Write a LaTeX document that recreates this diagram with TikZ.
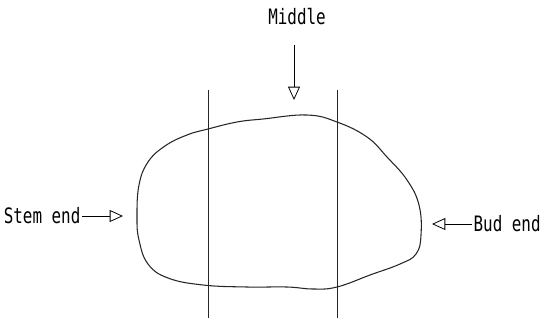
\documentclass[tikz,border=0pt]{standalone}
\usepackage{fontspec}
\usepackage{tikz}
\usetikzlibrary{arrows.meta}
\newfontfamily\lblfont[FakeStretch=0.75]{DejaVu Sans Mono}

\begin{document}
\begin{tikzpicture}[
    x=0.0265cm, y=-0.0265cm,
    label/.style={font=\lblfont\fontsize{16}{18}\selectfont, inner sep=1pt},
    arrow/.style={-{Triangle[open, length=10pt, width=9pt]}, line width=0.6pt},
    cut/.style={line width=0.6pt, black!85},
]
    \useasboundingbox (0,0) rectangle (544,321);

    % Tuber outline
    \draw[line width=0.8pt, black!85] plot[smooth cycle, tension=0.7] coordinates {
        (137,217) (139,185) (148,162) (165,146) (187,135) (208,129) (237,122)
        (263,119) (307,115) (337,122) (367,137) (387,157) (407,180)
        (419,205) (421,235) (416,254) (400,264) (370,275) (337,287) (313,289)
        (287,287) (247,287) (203,285) (168,278) (148,264) (139,240)
    };

    % Cutting lines
    \draw[cut] (208,90) -- (208,318);
    \draw[cut] (337,90) -- (337,318);

    % Labels
    \node[label] (middle) at (297,17) {Middle};
    \node[label, anchor=east] (stem) at (82,216) {Stem end};
    \node[label, anchor=west] (bud) at (472,224) {Bud end};

    \coordinate (midtop) at (294,45);
    \coordinate (midtip) at (294,100);
    \coordinate (stemtip) at (123,216);
    \coordinate (budtip) at (432,224);

    \draw[arrow] (midtop) -- (midtip);
    \draw[arrow] (stem.east) -- (stemtip);
    \draw[arrow] (bud.west) -- (budtip);
\end{tikzpicture}
\end{document}
